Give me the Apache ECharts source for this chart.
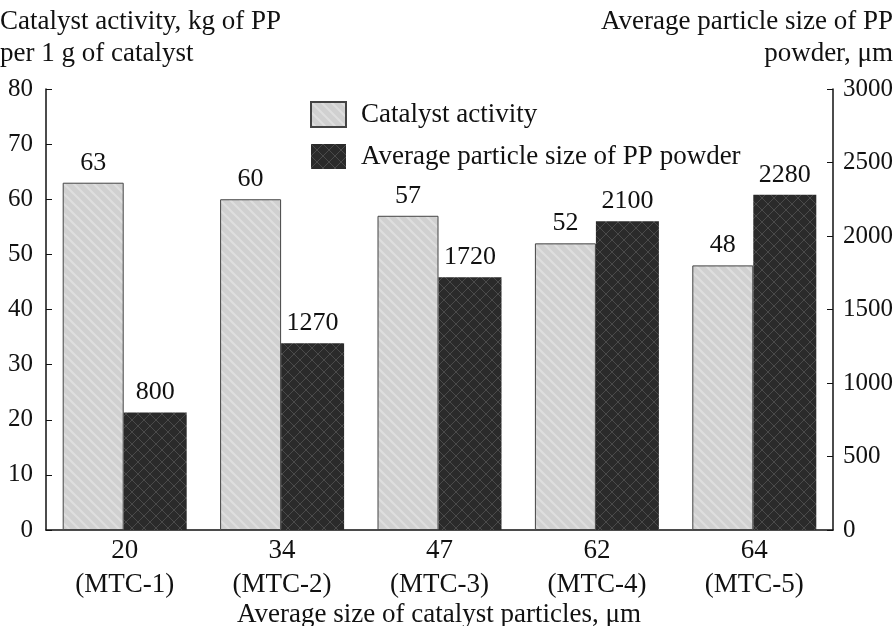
<!DOCTYPE html>
<html><head><meta charset="utf-8">
<script src="https://cdn.jsdelivr.net/npm/echarts@6/dist/echarts.min.js"></script>
<style>html,body{margin:0;padding:0;background:#fff}#c{width:896px;height:626px}</style>
</head><body><div id="c"></div>
<script>
var categories = ['20\n(MTC-1)', '34\n(MTC-2)', '47\n(MTC-3)', '62\n(MTC-4)', '64\n(MTC-5)'];
var activity = [63, 60, 57, 52, 48];
var particleSize = [800, 1270, 1720, 2100, 2280];
var seriesNames = ['Catalyst activity', 'Average particle size of PP powder'];
var leftTitle = ['Catalyst activity, kg of PP', 'per 1 g of catalyst'];
var rightTitle = ['Average particle size of PP', 'powder, \u03bcm'];
var xTitle = 'Average size of catalyst particles, \u03bcm';

function grayPattern() {
  var c = document.createElement('canvas'); c.width = 10; c.height = 10;
  var g = c.getContext('2d');
  g.fillStyle = '#d0d0d0'; g.fillRect(0, 0, 10, 10);
  g.strokeStyle = '#dedede'; g.lineWidth = 2;
  g.beginPath();
  g.moveTo(0, 0); g.lineTo(10, 10);
  g.moveTo(-5, 5); g.lineTo(5, 15);
  g.moveTo(5, -5); g.lineTo(15, 5);
  g.stroke();
  return c;
}
function darkPattern() {
  var c = document.createElement('canvas'); c.width = 12; c.height = 12;
  var g = c.getContext('2d');
  g.fillStyle = '#2a2a2a'; g.fillRect(0, 0, 12, 12);
  g.strokeStyle = '#4a4a4a'; g.lineWidth = 1;
  g.beginPath();
  g.moveTo(0, 0); g.lineTo(12, 12);
  g.moveTo(12, 0); g.lineTo(0, 12);
  g.stroke();
  return c;
}
var FONT = 'Liberation Serif';
var TF = '27px "Liberation Serif"';
var plain = function (v) { return String(v); };
var chart = echarts.init(document.getElementById('c'), null, {renderer: 'canvas'});
chart.setOption({
  animation: false,
  textStyle: {fontFamily: FONT, color: '#111'},
  grid: {left: 46, right: 63, top: 89, bottom: 96},
  legend: {
    orient: 'vertical', left: 305, top: 96, itemWidth: 35, itemHeight: 25, itemGap: 15,
    icon: 'rect',
    textStyle: {fontFamily: FONT, fontSize: 27, color: '#111', padding: [0, 0, 0, 10]},
    data: seriesNames
  },
  xAxis: {
    type: 'category', data: categories,
    axisLine: {lineStyle: {color: '#111', width: 1.5}},
    axisTick: {inside: true, length: 8, lineStyle: {color: '#111'}},
    axisLabel: {fontFamily: FONT, fontSize: 27, color: '#111', lineHeight: 34, margin: 4}
  },
  yAxis: [{
    type: 'value', min: 0, max: 80, interval: 10,
    axisLine: {show: true, lineStyle: {color: '#111', width: 1.5}},
    axisTick: {show: true, inside: true, length: 6, lineStyle: {color: '#111'}},
    axisLabel: {fontFamily: FONT, fontSize: 25, color: '#111', margin: 13, formatter: plain},
    splitLine: {show: false}
  }, {
    type: 'value', min: 0, max: 3000, interval: 500,
    axisLine: {show: true, lineStyle: {color: '#111', width: 1.5}},
    axisTick: {show: true, inside: true, length: 6, lineStyle: {color: '#111'}},
    axisLabel: {fontFamily: FONT, fontSize: 25, color: '#111', margin: 10, formatter: plain},
    splitLine: {show: false}
  }],
  graphic: [
    {type: 'text', left: 0, top: 8, style: {text: leftTitle[0], font: TF, fill: '#111'}},
    {type: 'text', left: 0, top: 40, style: {text: leftTitle[1], font: TF, fill: '#111'}},
    {type: 'text', right: 3, top: 8, style: {text: rightTitle[0], font: TF, fill: '#111'}},
    {type: 'text', right: 3, top: 40, style: {text: rightTitle[1], font: TF, fill: '#111'}},
    {type: 'text', x: 439, y: 599, style: {text: xTitle, font: TF, fill: '#111', align: 'center', lineHeight: 32}}
  ],
  series: [{
    name: seriesNames[0], type: 'bar', yAxisIndex: 0, data: activity,
    barWidth: 61, barGap: '0%',
    itemStyle: {color: {image: grayPattern(), repeat: 'repeat'}, borderColor: '#444', borderWidth: 1},
    label: {show: true, position: 'top', distance: 7, fontFamily: FONT, fontSize: 26, color: '#111'}
  }, {
    name: seriesNames[1], type: 'bar', yAxisIndex: 1, data: particleSize,
    barWidth: 63, barGap: '0%',
    itemStyle: {color: {image: darkPattern(), repeat: 'repeat'}, borderColor: '#888', borderWidth: 0},
    label: {show: true, position: 'top', distance: 7, fontFamily: FONT, fontSize: 26, color: '#111'}
  }]
});
</script></body></html>
